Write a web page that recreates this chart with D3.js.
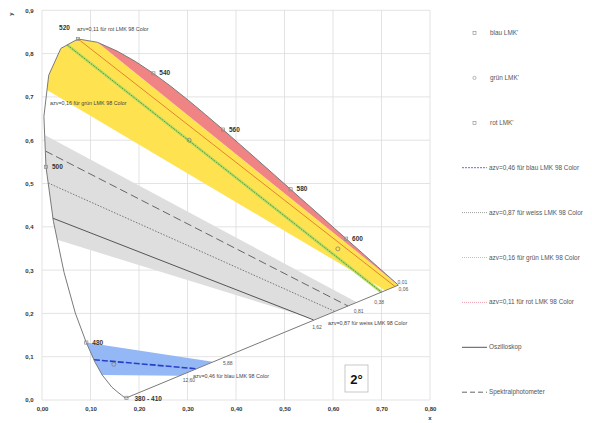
<!DOCTYPE html>
<html>
<head>
<meta charset="utf-8">
<script src="https://cdn.jsdelivr.net/npm/d3@7"></script>
<style>
  body { margin: 0; background: #fff; }
  text { font-family: "Liberation Sans", Arial, sans-serif; }
</style>
</head>
<body>
<div id="chart"></div>
<script>
// SVG height and width
var svgWidth = 592;
var svgHeight = 423;

// Spectral locus (CIE 1931, 2 degree)
var wavelengths = [380, 410, 420, 430, 440, 450, 460, 470, 475, 480, 485, 490, 495, 500, 505, 510, 515, 520, 525, 530, 535, 540, 545, 550, 555, 560, 565, 570, 575, 580, 585, 590, 595, 600, 610, 620, 630, 640, 650, 660, 680, 700];
var locusX = [0.1741, 0.1726, 0.1714, 0.1689, 0.1644, 0.1566, 0.1440, 0.1241, 0.1096, 0.0913, 0.0687, 0.0454, 0.0235, 0.0082, 0.0039, 0.0139, 0.0389, 0.0743, 0.1142, 0.1547, 0.1929, 0.2296, 0.2658, 0.3016, 0.3373, 0.3731, 0.4087, 0.4441, 0.4788, 0.5125, 0.5448, 0.5752, 0.6029, 0.6270, 0.6658, 0.6915, 0.7079, 0.7190, 0.7260, 0.7300, 0.7334, 0.7347];
var locusY = [0.0050, 0.0048, 0.0051, 0.0069, 0.0109, 0.0177, 0.0297, 0.0578, 0.0868, 0.1327, 0.2007, 0.2950, 0.4127, 0.5384, 0.6548, 0.7502, 0.8120, 0.8338, 0.8262, 0.8059, 0.7816, 0.7543, 0.7243, 0.6923, 0.6589, 0.6245, 0.5896, 0.5547, 0.5202, 0.4866, 0.4544, 0.4242, 0.3965, 0.3725, 0.3340, 0.3083, 0.2920, 0.2809, 0.2740, 0.2700, 0.2666, 0.2653];

// Labelled wavelengths on the locus
var markedWl = [380, 480, 500, 520, 540, 560, 580, 600];
var markedText = ["380 - 410", "480", "500", "520", "540", "560", "580", "600"];

// Tolerance bands (x, y corners)
var grayBand = [[0.0314, 0.370], [0.0235, 0.4127], [0.0082, 0.5384], [0.0055, 0.612], [0.649, 0.2255], [0.562, 0.186]];
var yellowBand = [[0.0103, 0.716], [0.0139, 0.7502], [0.0389, 0.8120], [0.0743, 0.8338], [0.1142, 0.8262], [0.7347, 0.2653], [0.708, 0.2527]];
var blueBand = [[0.0913, 0.1327], [0.352, 0.0885], [0.2836, 0.0558], [0.1241, 0.0578], [0.1096, 0.0868]];

// Lines
var spektralLine = [[0.007, 0.575], [0.631, 0.217]];
var weissLine = [[0.013, 0.501], [0.604, 0.2045]];
var oszilloLine = [[0.022, 0.420], [0.560, 0.185]];
var blauLine = [[0.107, 0.093], [0.318, 0.0722]];
var gruenLine = [[0.052, 0.820], [0.700, 0.249]];
var rotLine = [[0.0743, 0.8338], [0.728, 0.262]];

// Measured points (blau, grün, rot)
var lmkNames = ["blau LMK'", "grün LMK'", "rot LMK'"];
var lmkX = [0.148, 0.3035, 0.610];
var lmkY = [0.0824, 0.600, 0.349];

// End values on the purple line
var endValues = ["0,01", "0,06", "0,38", "0,81", "1,62", "5,88", "12,60"];
var endX = [0.733, 0.735, 0.685, 0.643, 0.557, 0.373, 0.290];
var endY = [0.269, 0.251, 0.222, 0.202, 0.164, 0.081, 0.042];

// Tick values
var xTicks = [0, 0.1, 0.2, 0.3, 0.4, 0.5, 0.6, 0.7, 0.8];
var yTicks = [0, 0.1, 0.2, 0.3, 0.4, 0.5, 0.6, 0.7, 0.8, 0.9];

// Legend entries
var legendLabels = ["blau LMK'", "grün LMK'", "rot LMK'", "azv=0,46 für blau LMK 98 Color", "azv=0,87 für weiss LMK 98 Color", "azv=0,16 für grün LMK 98 Color", "azv=0,11 für rot LMK 98 Color", "Oszilloskop", "Spektralphotometer"];

var svg = d3.select("#chart")
  .append("svg")
  .attr("width", svgWidth)
  .attr("height", svgHeight);

// Scales
var xScale = d3.scaleLinear().domain([0, 0.8]).range([42, 430]);
var yScale = d3.scaleLinear().domain([0, 0.9]).range([400, 10.3]);

var comma = function(d, n) { return d.toFixed(n).replace(".", ","); };

// Grid
svg.append("g")
  .selectAll("line.vx")
  .data(xTicks)
  .enter()
  .append("line")
  .attr("x1", d => xScale(d))
  .attr("x2", d => xScale(d))
  .attr("y1", yScale(0.9))
  .attr("y2", yScale(0))
  .attr("stroke", "#dcdcdc")
  .attr("stroke-width", 0.8);

svg.append("g")
  .selectAll("line.hy")
  .data(yTicks)
  .enter()
  .append("line")
  .attr("x1", xScale(0))
  .attr("x2", xScale(0.8))
  .attr("y1", d => yScale(d))
  .attr("y2", d => yScale(d))
  .attr("stroke", "#dcdcdc")
  .attr("stroke-width", 0.8);

// Axes
var bottomAxis = d3.axisBottom(xScale).tickValues(xTicks).tickSize(0).tickFormat(d => comma(d, 2));
var leftAxis = d3.axisLeft(yScale).tickValues(yTicks).tickSize(0).tickFormat(d => comma(d, 1));

var xAxis = svg.append("g")
  .attr("transform", `translate(0, ${yScale(0)})`)
  .call(bottomAxis);
var yAxis = svg.append("g")
  .attr("transform", `translate(${xScale(0)}, 0)`)
  .call(leftAxis);

[xAxis, yAxis].forEach(function(ax) {
  ax.select(".domain").remove();
  ax.selectAll("text")
    .attr("font-size", 6)
    .attr("font-weight", "bold")
    .attr("fill", "#333");
});
xAxis.selectAll("text").attr("dy", "1.4em");
yAxis.selectAll("text").attr("dx", "-0.9em");

// Axis titles
svg.append("text")
  .attr("transform", "translate(13, 14) rotate(-90)")
  .attr("text-anchor", "middle")
  .attr("font-size", 6)
  .attr("font-weight", "bold")
  .attr("fill", "#333")
  .text("y");
svg.append("text")
  .attr("x", 430)
  .attr("y", 420)
  .attr("text-anchor", "middle")
  .attr("font-size", 6)
  .attr("font-weight", "bold")
  .attr("fill", "#333")
  .text("x");

var line = d3.line().x(d => xScale(d[0])).y(d => yScale(d[1]));

// Locus points as pairs
var locus = wavelengths.map((w, i) => [locusX[i], locusY[i]]);
var redBand = locus.filter((p, i) => wavelengths[i] >= 525);

// Bands
svg.append("path").attr("d", line(grayBand) + "Z").attr("fill", "#dedede");
svg.append("path").attr("d", line(yellowBand) + "Z").attr("fill", "#ffe24f");
svg.append("path").attr("d", line(redBand) + "Z").attr("fill", "#f08484");
svg.append("path").attr("d", line(blueBand) + "Z").attr("fill", "#93b8f5");

// Lines
svg.append("path").attr("d", line(oszilloLine)).attr("stroke", "#555").attr("stroke-width", 1).attr("fill", "none");
svg.append("path").attr("d", line(weissLine)).attr("stroke", "#777").attr("stroke-width", 1).attr("stroke-dasharray", "1.5,1.5").attr("fill", "none");
svg.append("path").attr("d", line(spektralLine)).attr("stroke", "#666").attr("stroke-width", 1).attr("stroke-dasharray", "8,4").attr("fill", "none");
svg.append("path").attr("d", line(gruenLine)).attr("stroke", "#b9dc6a").attr("stroke-width", 3).attr("fill", "none");
svg.append("path").attr("d", line(gruenLine)).attr("stroke", "#5f9e22").attr("stroke-width", 1).attr("stroke-dasharray", "2,1").attr("fill", "none");
svg.append("path").attr("d", line(rotLine)).attr("stroke", "#e0782e").attr("stroke-width", 0.9).attr("fill", "none");
svg.append("path").attr("d", line(blauLine)).attr("stroke", "#2a3fc8").attr("stroke-width", 1.6).attr("stroke-dasharray", "6,2").attr("fill", "none");

// Spectral locus outline with purple line
svg.append("path")
  .attr("d", line(locus) + "Z")
  .attr("fill", "none")
  .attr("stroke", "#7a7a7a")
  .attr("stroke-width", 1);

// Wavelength markers and labels
markedWl.forEach(function(w, k) {
  var i = wavelengths.indexOf(w);
  var px = xScale(locusX[i]);
  var py = yScale(locusY[i]);
  svg.append("rect")
    .attr("x", px - 1.6).attr("y", py - 1.6)
    .attr("width", 3.2).attr("height", 3.2)
    .attr("fill", "none").attr("stroke", "#888").attr("stroke-width", 0.7);
  var dx = 6, dy = 2;
  if (w == 520) { dx = -19; dy = -9; }
  if (w == 380) { dx = 8; dy = 3; }
  svg.append("text")
    .attr("x", px + dx).attr("y", py + dy)
    .attr("font-size", 6.5)
    .attr("font-weight", "bold")
    .attr("fill", "#333")
    .text(markedText[k]);
});

// Measured points
lmkX.forEach(function(x, i) {
  svg.append("circle")
    .attr("cx", xScale(x)).attr("cy", yScale(lmkY[i]))
    .attr("r", 2)
    .attr("fill", "none").attr("stroke", "#777").attr("stroke-width", 0.7);
});

// End value labels
endValues.forEach(function(v, i) {
  svg.append("text")
    .attr("x", xScale(endX[i])).attr("y", yScale(endY[i]))
    .attr("font-size", 5)
    .attr("fill", "#555")
    .text(v);
});

// Band captions
var captions = [
  ["azv=0,11 für rot LMK 98 Color", 77, 31],
  ["azv=0,16 für grün LMK 98 Color", 50, 105],
  ["azv=0,87 für weiss LMK 98 Color", 328, 325],
  ["azv=0,46 für blau LMK 98 Color", 193, 378]
];
captions.forEach(function(c) {
  svg.append("text")
    .attr("x", c[1]).attr("y", c[2])
    .attr("font-size", 5.4)
    .attr("fill", "#444")
    .text(c[0]);
});

// 2° box
svg.append("rect")
  .attr("x", 345).attr("y", 365)
  .attr("width", 23).attr("height", 27)
  .attr("fill", "#fff").attr("stroke", "#bbb").attr("stroke-width", 0.8);
svg.append("text")
  .attr("x", 356.5).attr("y", 384)
  .attr("text-anchor", "middle")
  .attr("font-size", 13)
  .attr("font-weight", "bold")
  .attr("fill", "#111")
  .text("2°");

// Legend
var legend = svg.append("g").attr("transform", "translate(462, 33)");
var legendStyles = [
  { type: "rect" }, { type: "circle" }, { type: "rect" },
  { type: "line", color: "#6b6bd8", dash: "2,1", width: 1 },
  { type: "line", color: "#888", dash: "1,1", width: 0.8 },
  { type: "line", color: "#9cc86a", dash: "1,1", width: 0.8 },
  { type: "line", color: "#e88a9a", dash: "1,1", width: 0.8 },
  { type: "line", color: "#444", dash: null, width: 0.9 },
  { type: "line", color: "#555", dash: "5,3", width: 0.9 }
];
legendLabels.forEach(function(label, i) {
  var g = legend.append("g").attr("transform", `translate(0, ${i * 44.9})`);
  var s = legendStyles[i];
  if (s.type == "rect") {
    g.append("rect").attr("x", 11).attr("y", -1.5).attr("width", 3).attr("height", 3)
      .attr("fill", "none").attr("stroke", "#888").attr("stroke-width", 0.6);
  } else if (s.type == "circle") {
    g.append("circle").attr("cx", 12.5).attr("cy", 0).attr("r", 1.6)
      .attr("fill", "none").attr("stroke", "#888").attr("stroke-width", 0.6);
  } else {
    g.append("line").attr("x1", 0).attr("x2", 25).attr("y1", 0).attr("y2", 0)
      .attr("stroke", s.color).attr("stroke-width", s.width)
      .attr("stroke-dasharray", s.dash);
  }
  g.append("text")
    .attr("x", s.type == "line" ? 27 : 28)
    .attr("y", 2)
    .attr("font-size", 6.4)
    .attr("fill", "#555")
    .text(label);
});
</script>
</body>
</html>
